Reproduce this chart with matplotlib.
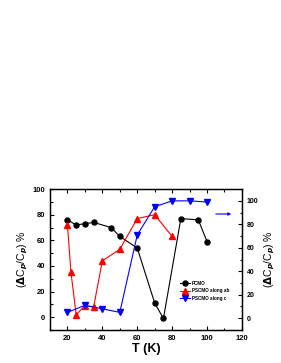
import matplotlib
matplotlib.use("Agg")
import matplotlib.pyplot as plt
from matplotlib.ticker import MultipleLocator

plt.rcParams["font.family"] = ["Liberation Sans", "DejaVu Sans"]
plt.rcParams["font.weight"] = "bold"

# PCMO (left axis)
t_pcmo = [20, 25, 30, 35, 45, 50, 60, 70, 75, 85, 95, 100]
dc_pcmo = [76, 72, 73, 74, 70, 63, 54, 11, -1, 77, 76, 59]

# PSCMO along ab (left axis)
t_ab = [20, 22, 25, 30, 35, 40, 50, 60, 70, 80]
dc_ab = [72, 35, 2, 9, 8, 44, 53, 77, 80, 63]

# PSCMO along c (right axis)
t_c = [20, 30, 40, 50, 60, 70, 80, 90, 100]
dc_c = [5, 11, 8, 5, 71, 95, 100, 100, 99]

fig = plt.figure(figsize=(2.81, 3.63), dpi=100)
ax = fig.add_axes([0.178, 0.091, 0.683, 0.388])
ax2 = ax.twinx()

l1, = ax.plot(t_pcmo, dc_pcmo, "-o", color="black", lw=0.8, ms=3.6, label="PCMO")
l2, = ax.plot(t_ab, dc_ab, "-^", color="red", lw=0.8, ms=3.8, label="PSCMO along ab")
l3, = ax2.plot(t_c, dc_c, "-v", color="blue", lw=0.8, ms=3.8, label="PSCMO along c")

ax.set_xlim(10, 120)
ax.set_ylim(-10, 100)
ax2.set_ylim(-10, 110)

ax.xaxis.set_major_locator(MultipleLocator(20))
ax.xaxis.set_minor_locator(MultipleLocator(10))
ax.yaxis.set_major_locator(MultipleLocator(20))
ax.yaxis.set_minor_locator(MultipleLocator(10))
ax2.yaxis.set_major_locator(MultipleLocator(20))
ax2.yaxis.set_minor_locator(MultipleLocator(10))

ax.tick_params(which="both", direction="in", top=True, labelsize=5.5, width=0.8)
ax.tick_params(which="major", length=3)
ax.tick_params(which="minor", length=1.8)
ax2.tick_params(which="both", direction="in", labelsize=5, width=0.8)
ax2.tick_params(which="major", length=3)
ax2.tick_params(which="minor", length=1.8)
for a in (ax, ax2):
    for s in a.spines.values():
        s.set_linewidth(0.9)

ax.set_xlabel("T (K)", fontsize=9, fontweight="bold", labelpad=1)
ax.set_ylabel(r"($\Delta$C$_p$/C$_p$) %", fontsize=7.5, labelpad=2)
ax2.set_ylabel(r"($\Delta$C$_p$/C$_p$) %", fontsize=7.5, labelpad=3)

ax.legend(handles=[l1, l2, l3], loc="upper left", bbox_to_anchor=(0.66, 0.37),
          frameon=False, fontsize=3.3, handlelength=2.2, labelspacing=0.5,
          handletextpad=0.4, borderpad=0.2)

# arrow pointing to the right axis for the blue curve
fig.patches.append(matplotlib.patches.FancyArrowPatch(
    (213 / 281, 1 - 214 / 363), (234 / 281, 1 - 214 / 363),
    transform=fig.transFigure, arrowstyle="-|>", mutation_scale=4,
    color="blue", lw=0.8))

fig.savefig("out.png", dpi=100)
